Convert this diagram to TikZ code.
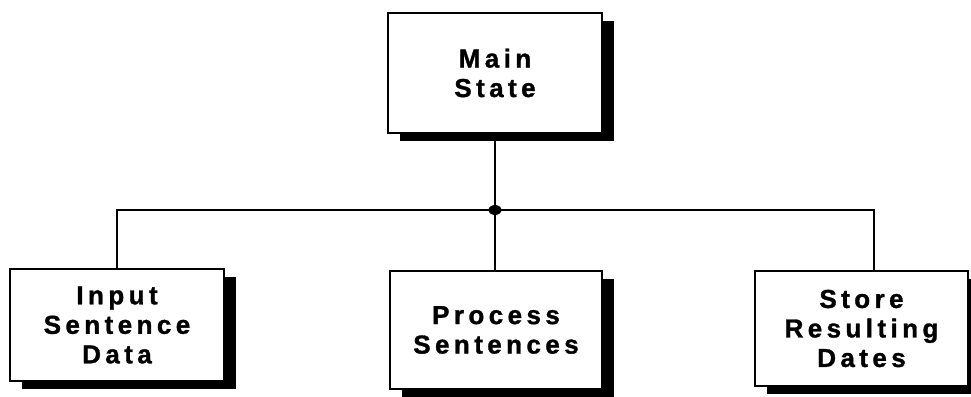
\documentclass[tikz,border=0pt]{standalone}
\usepackage{fontspec}
\newfontfamily\boxfont[LetterSpace=17, BoldFeatures={FakeBold=1.2}]{Liberation Sans}
\usetikzlibrary{shadows}
\tikzset{
  statebox/.style={draw=black, line width=1.3pt, fill=white, rectangle,
    align=center, inner sep=0pt,
    font=\boxfont\bfseries\fontsize{26}{29.5}\selectfont,
    drop shadow={shadow xshift=12pt, shadow yshift=-8pt, fill=black, opacity=1}},
  wire/.style={line width=1.3pt}
}
\begin{document}
\begin{tikzpicture}[x=1pt, y=1pt]
  \useasboundingbox (0,0) rectangle (971,396);
  % top-level state
  \node[statebox, minimum width=214pt, minimum height=120pt] (main) at (495,323) {Main\\State};
  % sub-states
  \node[statebox, minimum width=214pt, minimum height=112pt] (input) at (117,71) {Input\\Sentence\\Data};
  \node[statebox, minimum width=212pt, minimum height=118pt] (proc) at (496,66) {Process\\Sentences};
  \node[statebox, minimum width=213pt, minimum height=115pt] (store) at (861.5,67.5) {Store\\Resulting\\Dates};
  % branching connectors
  \coordinate (hub) at (495,186);
  \coordinate (rjoin) at (874,186);
  \draw[wire] (main.south) -- (hub) -- (hub |- proc.north);
  \draw[wire] (input.north) |- (rjoin) -- (rjoin |- store.north);
  \fill (hub) ellipse [x radius=6.5pt, y radius=5pt];
\end{tikzpicture}
\end{document}
